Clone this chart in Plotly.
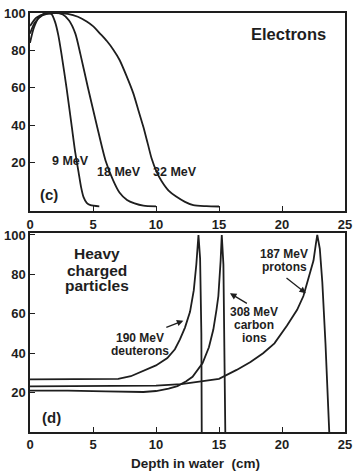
import plotly.graph_objects as go

# ---- Electrons (panel c) ----
depth_e9 = [0, 0.3, 0.7, 1.2, 1.7, 2.0, 2.25, 2.5, 2.9, 3.3, 3.6, 3.85, 4.05, 4.25, 4.5, 4.8, 5.5]
dose_e9 = [84, 92, 97.5, 99.8, 99.5, 95, 88, 78, 60, 40, 25, 15, 7, 1.5, -1.5, -2.8, -3.4]

depth_e18 = [0, 0.4, 1.0, 1.8, 2.6, 3.1, 3.6, 4.0, 4.6, 5.3, 6.0, 6.6, 7.1, 7.7, 8.3, 9.0, 10.0]
dose_e18 = [89, 95, 98.8, 100, 99.2, 96, 89, 78, 60, 40, 21, 10.5, 4, 0, -1.8, -3, -3.4]

depth_e32 = [0, 0.5, 1.2, 2.0, 3.0, 3.8, 4.5, 5.0, 5.56, 6.1, 6.6, 7.1, 7.65, 8.2, 8.6, 9.0,
             9.35, 9.66, 10.05, 10.45, 11.0, 11.6, 12.3, 12.96, 14.0, 15.0]
dose_e32 = [93, 97.5, 99.5, 100, 99.5, 98, 95.5, 93, 89, 85, 80.5, 75, 66.5, 57, 48, 39,
            30, 22, 15, 10, 5, 1.8, -1, -2.8, -3.3, -3.5]

# ---- Heavy charged particles (panel d) ----
depth_deut = [0, 4, 7, 8, 9, 10, 10.9, 11.5, 11.9, 12.3, 12.7, 13.0, 13.2, 13.3, 13.37, 13.5, 13.6, 13.63]
dose_deut = [26.7, 26.7, 27, 28.3, 31, 33.8, 37.5, 42, 47, 53, 61, 72, 85, 95, 100, 88, 50, 0]

depth_carb = [0, 3, 6, 8, 9, 10, 11, 11.7, 12.4, 12.9, 13.7, 14.2, 14.55, 14.8, 14.95, 15.13,
              15.22, 15.35, 15.45, 15.5]
dose_carb = [21, 21, 20.6, 20.2, 20.3, 20.8, 22, 23.3, 25.7, 28, 35, 43, 52, 62, 69, 87,
             100, 85, 40, 0]

depth_prot = [0, 5, 10, 12, 13.7, 15, 16.4, 17.5, 18.5, 19.4, 20.4, 21.2, 21.7, 22.2, 22.5,
              22.7, 22.8, 23.0, 23.2, 23.45, 23.75]
dose_prot = [23.2, 23.2, 23.5, 24.3, 25.8, 27, 31.5, 35.5, 40, 45, 54, 62, 69, 80, 87,
             96, 100, 93, 76, 45, 0]

x_ticks = [0, 5, 10, 15, 20, 25]
y_ticks = [20, 40, 60, 80, 100]

INK = "#1e1e1e"
FONT = "Liberation Sans, Arial, Helvetica, sans-serif"

fig = go.Figure()

def add_curve(x, y, xa, ya, spline=False):
    fig.add_trace(go.Scatter(
        x=x, y=y, xaxis=xa, yaxis=ya, mode="lines",
        line=dict(color=INK, width=1.8, shape="spline" if spline else "linear",
                  smoothing=0.7 if spline else 0),
        hoverinfo="skip", showlegend=False))

add_curve(depth_e9, dose_e9, "x", "y", True)
add_curve(depth_e18, dose_e18, "x", "y", True)
add_curve(depth_e32, dose_e32, "x", "y", True)
add_curve(depth_deut, dose_deut, "x2", "y2")
add_curve(depth_carb, dose_carb, "x2", "y2")
add_curve(depth_prot, dose_prot, "x2", "y2")

axis_common = dict(
    showline=True, mirror=True, linecolor=INK, linewidth=1.5,
    ticks="inside", ticklen=5, tickwidth=1.3, tickcolor=INK,
    showgrid=False, zeroline=False, automargin=False,
    tickfont=dict(family=FONT, size=13, color=INK, weight="bold"),
)

fig.update_layout(
    width=356, height=472,
    margin=dict(l=30, r=11, t=13, b=40, autoexpand=False),
    paper_bgcolor="white", plot_bgcolor="white",
    xaxis=dict(domain=[0, 1], anchor="y", range=[0, 25], tickvals=x_ticks, **axis_common),
    yaxis=dict(domain=[0.527, 1], anchor="x", range=[-6, 100], tickvals=y_ticks, **axis_common),
    xaxis2=dict(domain=[0, 1], anchor="y2", range=[0, 25], tickvals=x_ticks, **axis_common),
    yaxis2=dict(domain=[0, 0.475], anchor="x2", range=[0, 101], tickvals=y_ticks, **axis_common),
)

def label(text, x, y, xref, yref, size=12):
    fig.add_annotation(text=text, x=x, y=y, xref=xref, yref=yref, showarrow=False,
                       xanchor="center", yanchor="middle",
                       font=dict(family=FONT, size=size, color=INK, weight="bold"))

def arrow(x_head, y_head, x_tail, y_tail, xref, yref):
    fig.add_annotation(text="", x=x_head, y=y_head, ax=x_tail, ay=y_tail,
                       xref=xref, yref=yref, axref=xref, ayref=yref,
                       showarrow=True, arrowhead=2, arrowsize=1.0, arrowwidth=1.3,
                       arrowcolor=INK)

# Panel (c) labels
label("Electrons", 20.5, 88.8, "x", "y", 16.5)
label("9 MeV", 3.2, 20.8, "x", "y", 12.5)
label("18 MeV", 7.06, 14.9, "x", "y", 12.5)
label("32 MeV", 11.5, 14.9, "x", "y", 12.5)
label("(c)", 1.5, 3.1, "x", "y", 15)

# Panel (d) labels
label("Heavy", 5.29, 90.7, "x2", "y2", 15.5)
label("charged", 5.29, 82.2, "x2", "y2", 15.5)
label("particles", 5.29, 74.1, "x2", "y2", 15.5)
label("190 MeV", 8.73, 47.6, "x2", "y2", 12)
label("deuterons", 8.73, 41.3, "x2", "y2", 12)
label("308 MeV", 17.78, 61.0, "x2", "y2", 12)
label("carbon", 17.78, 54.1, "x2", "y2", 12)
label("ions", 17.78, 47.6, "x2", "y2", 12)
label("187 MeV", 20.16, 90.1, "x2", "y2", 12)
label("protons", 20.16, 83.6, "x2", "y2", 12)
label("(d)", 1.72, 7.5, "x2", "y2", 15)

arrow(12.17, 56.5, 10.7, 52.8, "x2", "y2")
arrow(15.87, 70.4, 17.33, 64.8, "x2", "y2")
arrow(21.9, 70.4, 20.24, 78.8, "x2", "y2")

fig.add_annotation(text="Depth in water \u00a0(cm)", x=(195 - 30) / 315, y=-0.074,
                   xref="paper", yref="paper", showarrow=False,
                   xanchor="center", yanchor="middle",
                   font=dict(family=FONT, size=13.5, color=INK, weight="bold"))

fig.write_html("out.html", config={"displayModeBar": False},
               post_script="document.body.style.margin='0px';")
